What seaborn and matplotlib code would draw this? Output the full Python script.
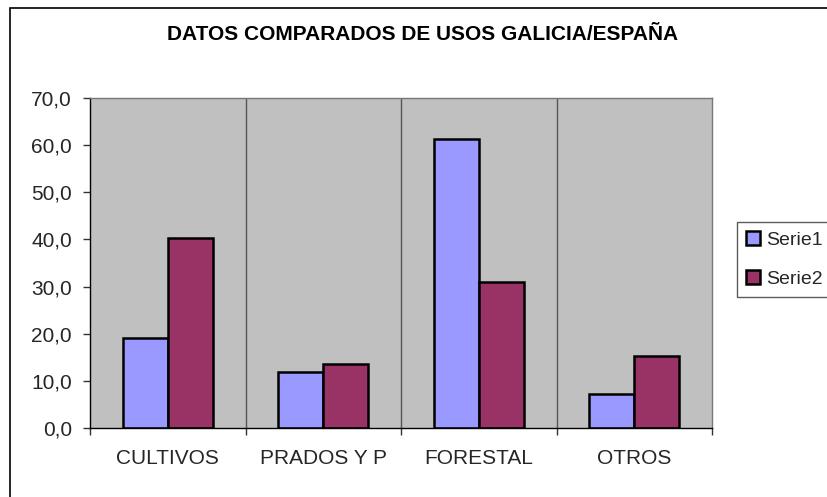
import pandas as pd
import seaborn as sns
import matplotlib.pyplot as plt
from matplotlib.patches import Rectangle
from matplotlib.ticker import FuncFormatter

# Datos
categorias = ["CULTIVOS", "PRADOS Y P", "FORESTAL", "OTROS"]
serie1 = [19.1, 11.9, 61.4, 7.2]
serie2 = [40.3, 13.6, 30.9, 15.3]
series = ["Serie1", "Serie2"]
yticks = [0, 10, 20, 30, 40, 50, 60, 70]

df = pd.DataFrame({
    "categoria": categorias * 2,
    "valor": serie1 + serie2,
    "serie": [series[0]] * 4 + [series[1]] * 4,
})

sns.set_style("white")
plt.rcParams["font.family"] = ["Liberation Sans", "DejaVu Sans"]

fig = plt.figure(figsize=(8.27, 4.97), dpi=100)
ax = fig.add_axes([90 / 827, 1 - 428 / 497, 622 / 827, 330 / 497])

sns.barplot(data=df, x="categoria", y="valor", hue="serie",
            palette=["#9999FF", "#993366"], saturation=1, width=0.58,
            edgecolor="black", linewidth=1.8, ax=ax)

ax.set_facecolor("#C0C0C0")
ax.set_ylim(0, 70)
ax.set_xlim(-0.5, 3.5)
ax.set_yticks(yticks)
ax.yaxis.set_major_formatter(FuncFormatter(lambda v, p: f"{v:.1f}".replace(".", ",")))
ax.tick_params(axis="y", labelsize=15, length=5, width=1, color="#333333",
               direction="out", left=True, pad=8)

# ticks del eje x en los límites de categoría, etiquetas en el centro
ax.set_xticks([-0.5, 0.5, 1.5, 2.5, 3.5])
ax.set_xticklabels([])
ax.set_xticks([0, 1, 2, 3], minor=True)
ax.set_xticklabels(categorias, minor=True)
ax.tick_params(axis="x", which="major", length=5, width=1, color="#333333", direction="out", bottom=True)
ax.tick_params(axis="x", which="minor", length=0, labelsize=15, pad=15)

for x in [0.5, 1.5, 2.5]:
    ax.axvline(x, color="#555555", linewidth=1, zorder=0.5)

for s in ax.spines.values():
    s.set_color("#777777")
    s.set_linewidth(1)
ax.spines["bottom"].set_color("black")
ax.spines["left"].set_color("black")

ax.set_xlabel("")
ax.set_ylabel("")
ax.set_title("")
fig.text(423 / 827, 1 - 35 / 497, "DATOS COMPARADOS DE USOS GALICIA/ESPAÑA",
         ha="center", va="center", fontsize=15, fontweight="bold", color="black")

leg = ax.legend(loc="upper left", bbox_to_anchor=(737 / 827, 1 - 222 / 497),
                bbox_transform=fig.transFigure, frameon=True, fancybox=False,
                edgecolor="#333333", fontsize=14, handlelength=0.75, handleheight=0.75,
                labelspacing=1.1, borderpad=0.45, borderaxespad=0, handletextpad=0.3)
leg.get_frame().set_linewidth(1)
for h in leg.legend_handles:
    h.set_linewidth(1.8)

# borde exterior del gráfico
fig.patches.append(Rectangle((10 / 827, -0.1), 1.0, 1.1 - 8 / 497,
                             transform=fig.transFigure, fill=False,
                             edgecolor="black", linewidth=1.2))

plt.savefig("out.png", dpi=100)
